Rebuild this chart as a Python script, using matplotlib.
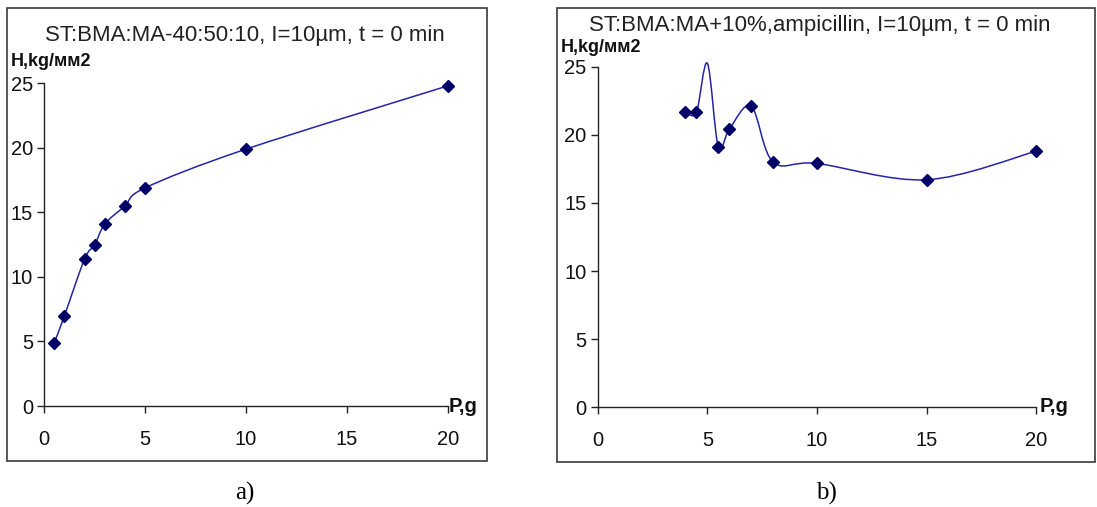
"""
Hardness H vs load P for two coatings, two panels a) and b).
Saves out.png
"""

import numpy as np
import matplotlib.pyplot as plt
from matplotlib.path import Path
from matplotlib.patches import PathPatch, Rectangle

# ── data ───────────────────────────────────────────────────────────────────
p_a = [0.5, 1.0, 2.0, 2.5, 3.0, 4.0, 5.0, 10.0, 20.0]
h_a = [4.9, 7.0, 11.4, 12.5, 14.1, 15.5, 16.9, 19.9, 24.8]

p_b = [4.0, 4.5, 5.0, 5.5, 6.0, 7.0, 8.0, 10.0, 15.0, 20.0]
h_b = [21.7, 21.65, 25.25, 19.1, 20.4, 22.1, 18.0, 17.9, 16.7, 18.8]

title_a = "ST:BMA:MA-40:50:10, I=10µm, t = 0 min"
title_b = "ST:BMA:MA+10%,ampicillin, I=10µm, t = 0 min"
ylabel = "H,kg/мм2"
xlabel = "P,g"
x_ticks = [0, 5, 10, 15, 20]
y_ticks = [0, 5, 10, 15, 20, 25]

LINE = "#2424a8"
MARK = "#000066"
FONT = "Liberation Sans"

W, H = 1097, 507


def smooth_path(x, y):
    """Excel-like smoothed line: cubic Bezier through every point."""
    pts = np.column_stack([x, y]).astype(float)
    n = len(pts)
    verts = [pts[0]]
    codes = [Path.MOVETO]
    for i in range(n - 1):
        p_prev = pts[max(i - 1, 0)]
        p_next2 = pts[min(i + 2, n - 1)]
        c1 = pts[i] + (pts[i + 1] - p_prev) / 6
        c2 = pts[i + 1] - (p_next2 - pts[i]) / 6
        verts += [c1, c2, pts[i + 1]]
        codes += [Path.CURVE4] * 3
    return Path(verts, codes)


def px_axes(fig, left, top, right, bottom):
    return fig.add_axes([left / W, 1 - bottom / H, (right - left) / W, (bottom - top) / H])


def draw_panel(fig, box, ax_px, x, y, title, title_xy, ylab_xy, xlab_xy, caption, cap_xy):
    # panel frame
    bx0, by0, bx1, by1 = box
    fig.patches.append(Rectangle((bx0 / W, 1 - by1 / H), (bx1 - bx0) / W, (by1 - by0) / H,
                                 transform=fig.transFigure, fill=False,
                                 edgecolor="#3a3a3a", linewidth=1.2))

    ax = px_axes(fig, *ax_px)
    ax.set_xlim(0, 20)
    ax.set_ylim(0, 25)
    ax.set_facecolor("none")
    for s in ["top", "right"]:
        ax.spines[s].set_visible(False)
    for s in ["left", "bottom"]:
        ax.spines[s].set_color("#222222")
        ax.spines[s].set_linewidth(1.0)
    ax.set_xticks(x_ticks)
    ax.set_yticks(y_ticks)
    ax.tick_params(direction="out", length=5, width=1, color="#222222",
                   labelsize=14.5, labelcolor="#111111")
    for lab in ax.get_xticklabels() + ax.get_yticklabels():
        lab.set_family(FONT)
    ax.tick_params(axis="x", pad=12)
    ax.tick_params(axis="y", pad=3)

    ax.add_patch(PathPatch(smooth_path(x, y), fill=False, edgecolor=LINE,
                           linewidth=1.1, clip_on=False))
    # markers only for points inside the plot area
    xm = [a for a, b in zip(x, y) if b <= 25]
    ym = [b for b in y if b <= 25]
    ax.plot(xm, ym, linestyle="none", marker="D", markersize=6,
            color=MARK, clip_on=False, zorder=3)

    fig.text(title_xy[0] / W, 1 - title_xy[1] / H, title, ha="center", va="center",
             fontsize=16, family=FONT, color="#222222")
    fig.text(ylab_xy[0] / W, 1 - ylab_xy[1] / H, ylabel, ha="left", va="center",
             fontsize=13, family=FONT, fontweight="bold", color="#111111")
    fig.text(xlab_xy[0] / W, 1 - xlab_xy[1] / H, xlabel, ha="left", va="center",
             fontsize=14.5, family=FONT, fontweight="bold", color="#111111")
    fig.text(cap_xy[0] / W, 1 - cap_xy[1] / H, caption, ha="center", va="center",
             fontsize=18, family="Liberation Serif", color="black")
    return ax


fig = plt.figure(figsize=(W / 100, H / 100), dpi=100, facecolor="white")

draw_panel(fig, (7, 8, 487, 461), (44.3, 83.3, 447.7, 406), p_a, h_a, title_a,
           (245, 35), (11, 62), (449, 406), "a)", (245, 493))
draw_panel(fig, (557, 8, 1095, 462), (597.7, 66.7, 1036.3, 407.3), p_b, h_b, title_b,
           (820, 25), (561, 48), (1040, 407), "b)", (826, 493))

plt.savefig("out.png", dpi=100)
plt.close()
